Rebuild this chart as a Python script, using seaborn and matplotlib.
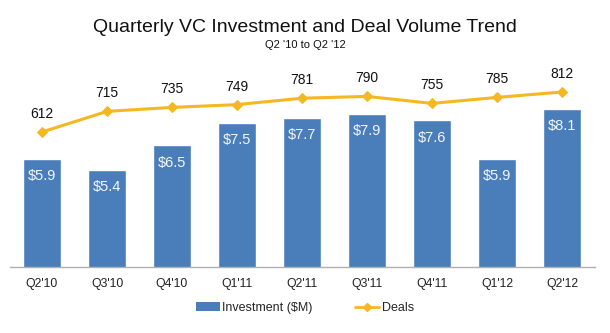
import matplotlib
matplotlib.use("Agg")
import matplotlib.pyplot as plt
import seaborn as sns
import numpy as np
import pandas as pd
from matplotlib.patches import Patch
from matplotlib.lines import Line2D

quarters = ["Q2'10", "Q3'10", "Q4'10", "Q1'11", "Q2'11", "Q3'11", "Q4'11", "Q1'12", "Q2'12"]
investment = [5.9, 5.4, 6.5, 7.5, 7.7, 7.9, 7.6, 5.9, 8.1]
deals = [612, 715, 735, 749, 781, 790, 755, 785, 812]

sns.set_theme(style="white")
plt.rcParams['font.family'] = ['Liberation Sans', 'DejaVu Sans']

bar_color = "#4A7EBB"
line_color = "#F5B820"

df = pd.DataFrame({"quarter": quarters, "investment": investment, "deals": deals, "pos": np.arange(len(quarters))})

fig = plt.figure(figsize=(6.10, 3.33), dpi=100)
W, H = 610, 333
left, right, bottom_px, top_px = 9.5, 594.5, 267, 60
ax = fig.add_axes([left / W, (H - bottom_px) / H, (right - left) / W, (bottom_px - top_px) / H])

sns.barplot(data=df, x="quarter", y="investment", color=bar_color, saturation=1, width=0.58, ax=ax)
ax.set_ylim(1.11, 1.11 + 207 / 22.6)
ax.set_xlim(-0.5, 8.5)
ax.set_xlabel("")
ax.set_ylabel("")
ax.set_yticks([])
for s in ["top", "right", "left"]:
    ax.spines[s].set_visible(False)
ax.spines["bottom"].set_color("#B0B0B0")
ax.spines["bottom"].set_linewidth(1.0)
ax.tick_params(axis="x", length=0, labelsize=8.8, pad=8, colors="#222222")

for i, v in enumerate(investment):
    ax.annotate(f"${v}", (i, v), xytext=(0, -12.5), textcoords="offset points",
                ha="center", va="center", color="#F4F6FA", fontsize=10.5)

ax2 = ax.twinx()
sns.lineplot(data=df, x="pos", y="deals", color=line_color, marker="D", markersize=5,
             markeredgecolor=line_color, linewidth=2.2, ax=ax2)
ax2.set_ylim(612 - 135 / 0.2, 612 - 135 / 0.2 + 207 / 0.2)
ax2.set_xlim(-0.5, 8.5)
ax2.set_yticks([])
ax2.set_ylabel("")
ax2.set_xlabel("")
for s in ["top", "right", "left", "bottom"]:
    ax2.spines[s].set_visible(False)
for i, v in enumerate(deals):
    ax2.annotate(f"{v}", (i, v), xytext=(0, 13), textcoords="offset points",
                 ha="center", va="center", color="#111111", fontsize=10)

fig.text(0.5, 1 - 28 / H, "Quarterly VC Investment and Deal Volume Trend", ha="center", va="center",
         fontsize=14, color="#111111")
fig.text(0.5, 1 - 45 / H, "Q2 '10 to Q2 '12", ha="center", va="center", fontsize=8, color="#111111")

handles = [Patch(facecolor=bar_color, edgecolor="none"),
           Line2D([0], [0], color=line_color, marker="D", markersize=4, linewidth=2)]
fig.legend(handles, ["Investment ($M)", "Deals"], loc="center", bbox_to_anchor=(0.5, 1 - 308 / H),
           ncol=2, frameon=False, fontsize=9, handlelength=1.9, handletextpad=0.2, columnspacing=3.4)

fig.savefig("out.png", dpi=100, facecolor="white")
